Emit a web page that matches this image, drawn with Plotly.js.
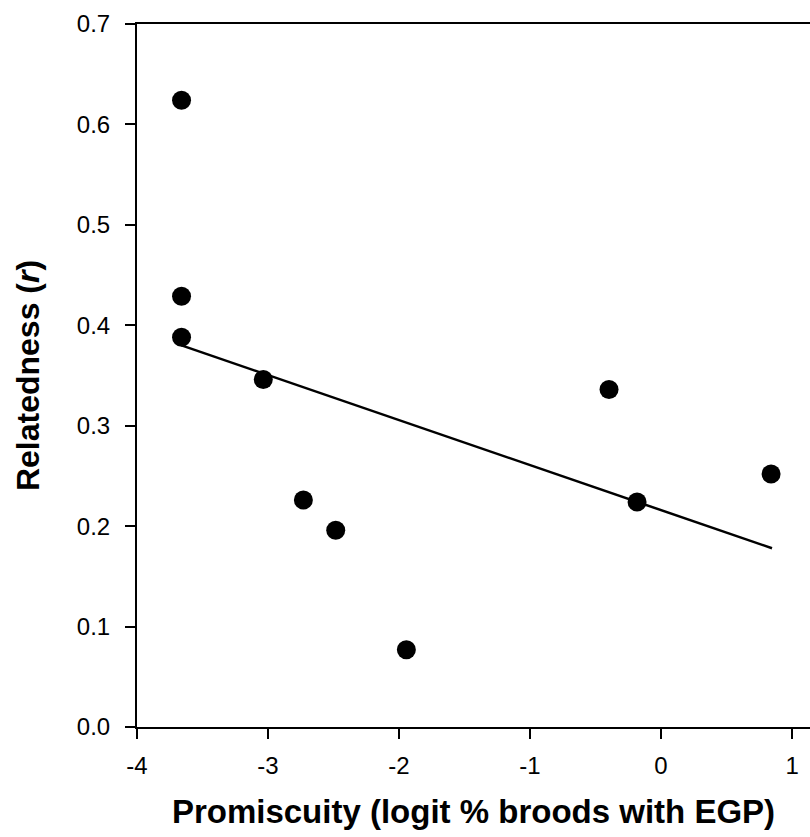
<!DOCTYPE html>
<html>
<head>
<meta charset="utf-8">
<script src="https://cdn.plot.ly/plotly-3.0.1.min.js"></script>
<style>html,body{margin:0;padding:0;background:#fff;}#chart{width:810px;height:837px;}</style>
</head>
<body>
<div id="chart"></div>
<script>
// Data
const promiscuity = [-3.66, -3.66, -3.66, -3.036, -2.73, -2.483, -1.944, -0.397, -0.183, 0.84];
const relatedness = [0.624, 0.429, 0.388, 0.346, 0.226, 0.196, 0.077, 0.336, 0.224, 0.252];
const fitX = [-3.66, 0.847];
const fitY = [0.380, 0.178];
const xTicks = [-4, -3, -2, -1, 0, 1];
const yTicks = [0.0, 0.1, 0.2, 0.3, 0.4, 0.5, 0.6, 0.7];

const traces = [
  {x: fitX, y: fitY, mode: 'lines', type: 'scatter', line: {color: '#000', width: 2.5}, hoverinfo: 'skip'},
  {x: promiscuity, y: relatedness, mode: 'markers', type: 'scatter', marker: {color: '#000', size: 19}}
];

const fam = 'Arial, "Liberation Sans", sans-serif';

const layout = {
  width: 810, height: 837,
  margin: {l: 137, r: 0, t: 24, b: 110},
  paper_bgcolor: '#fff', plot_bgcolor: '#fff',
  showlegend: false,
  font: {family: fam, color: '#000'},
  xaxis: {
    range: [-4, 1.137], tickvals: xTicks, ticktext: xTicks.map(String),
    showgrid: false, zeroline: false, showline: true, linecolor: '#000', linewidth: 2,
    mirror: true, ticks: 'outside', ticklen: 10, tickwidth: 2, tickcolor: '#000',
    ticklabelstandoff: 6,
    tickfont: {size: 24, family: fam, color: '#000'},
    title: {text: '<b>Promiscuity (logit % broods with EGP)</b>', font: {size: 33, family: fam, color: '#000'}, standoff: 22}
  },
  yaxis: {
    range: [0, 0.7], tickvals: yTicks, ticktext: yTicks.map(v => v.toFixed(1)),
    showgrid: false, zeroline: false, showline: true, linecolor: '#000', linewidth: 2,
    ticks: 'outside', ticklen: 10, tickwidth: 2, tickcolor: '#000',
    ticklabelstandoff: 10,
    tickfont: {size: 24, family: fam, color: '#000'},
    title: {text: '<b>Relatedness (<i>r</i>)</b>', font: {size: 32, family: fam, color: '#000'}, standoff: 28}
  }
};

Plotly.newPlot('chart', traces, layout, {displayModeBar: false, staticPlot: true});
</script>
</body>
</html>
